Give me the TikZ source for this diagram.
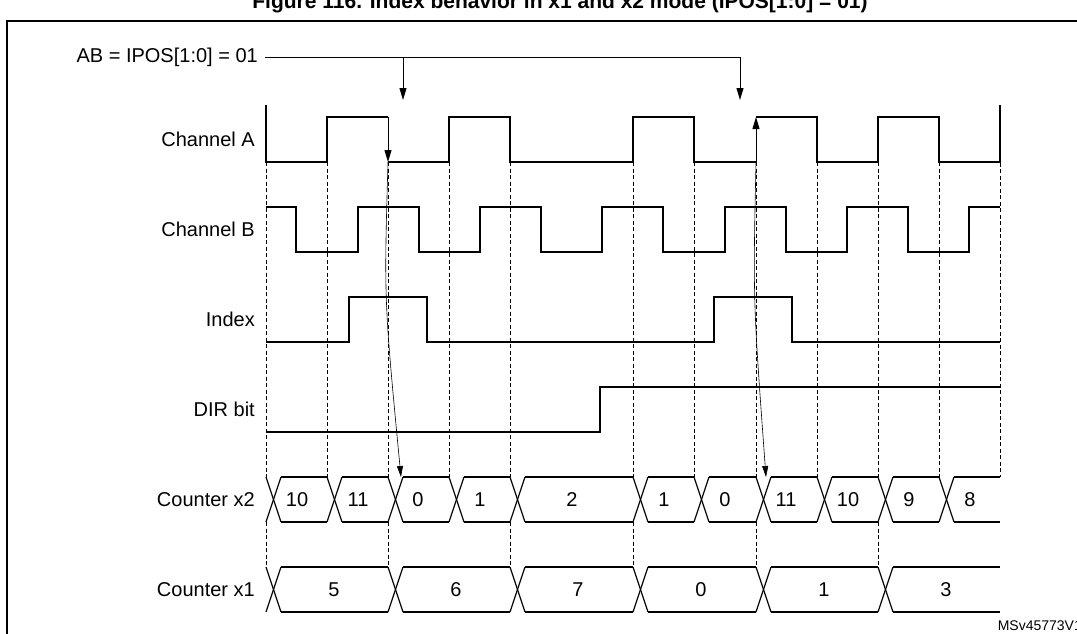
\documentclass[tikz,border=0pt]{standalone}
\usepackage{fontspec}
\setmainfont{Liberation Sans}
\usetikzlibrary{arrows.meta}
\begin{document}
\begin{tikzpicture}[x=1pt,y=-1pt,
  sig/.style={line width=1.5pt},
  grid/.style={dashed,line width=0.5pt,dash pattern=on 4pt off 2.5pt},
  lbl/.style={anchor=east,font=\fontsize{20}{24}\selectfont,inner sep=0pt},
  val/.style={font=\fontsize{20}{24}\selectfont,inner sep=0pt},
  bus/.style={line width=1.2pt},
  big/.style={line width=1pt,-{Triangle[length=12pt,width=7pt]}},
  thin/.style={line width=0.6pt,-{Triangle[length=11pt,width=6pt]}}]
\useasboundingbox (0,0) rectangle (1077,633);
\draw[line width=1.6pt] (7,650) -- (7,21) -- (1090,21);
\node[font=\bfseries\fontsize{21}{24}\selectfont,anchor=base] (title) at (560,8) {Figure 116. Index behavior in x1 and x2 mode (IPOS[1:0] = 01)};
% labels
\node[lbl] (ab) at (258,57) {AB = IPOS[1:0] = 01};
\node[lbl] (la) at (255,139) {Channel A};
\node[lbl] (lb) at (255,229) {Channel B};
\node[lbl] (li) at (255,319) {Index};
\node[lbl] (ld) at (255,409) {DIR bit};
\node[lbl] (l2) at (255,500) {Counter x2};
\node[lbl] (l1) at (255,590) {Counter x1};
\node[anchor=south east,font=\fontsize{14}{16}\selectfont,inner sep=0pt] (ms) at (1082,631) {MSv45773V1};
% top arrow
\coordinate (t1) at (403,100); \coordinate (t2) at (740,100);
\draw[line width=0.8pt] (265,57) -- (740,57);
\draw[big] (403,57) -- (t1);
\draw[big] (740,57) -- (t2);
% dashed grid
\foreach \x in {266,327,388,449,510,633,694,756,817,878,939}
  \draw[grid] (\x,162) -- (\x,477);
\draw[grid] (1000,117) -- (1000,477);
\foreach \x in {266,388,510,633,756,878}
  \draw[grid] (\x,522) -- (\x,567);
% Channel A
\draw[sig] (266,105) -- (266,162) -- (327,162) -- (327,117) -- (388,117);
\draw[sig] (388,162) -- (449,162) -- (449,117) -- (510,117) -- (510,162) -- (633,162) -- (633,117) -- (694,117) -- (694,162) -- (756,162);
\draw[sig] (756,117) -- (817,117) -- (817,162) -- (878,162) -- (878,117) -- (939,117) -- (939,162) -- (1000,162) -- (1000,105);
\draw[big] (388,117) -- (388,162);
\draw[big] (756,162) -- (756,117);
% Channel B
\draw[sig] (266,207) -- (296,207) -- (296,252) -- (358,252) -- (358,207) -- (419,207) -- (419,252) -- (480,252) -- (480,207) -- (541,207) -- (541,252) -- (602,252) -- (602,207) -- (663,207) -- (663,252) -- (725,252) -- (725,207) -- (786,207) -- (786,252) -- (847,252) -- (847,207) -- (908,207) -- (908,252) -- (969,252) -- (969,207) -- (1000,207);
% Index
\draw[sig] (266,342) -- (349,342) -- (349,297) -- (427,297) -- (427,342) -- (714,342) -- (714,297) -- (792,297) -- (792,342) -- (1000,342);
% DIR
\draw[sig] (266,432) -- (600,432) -- (600,387) -- (1000,387);
% Counter x2
\foreach \x in {266,327,388,449,510,633,694,756,817,878,939}{
  \draw[bus] (\x,477) -- (\x+15,522);
  \draw[bus] (\x,522) -- (\x+15,477);}
\foreach \a/\b in {281/327,342/388,403/449,464/510,525/633,648/694,709/756,771/817,832/878,893/939}{
  \draw[bus] (\a,477) -- (\b,477);
  \draw[bus] (\a,522) -- (\b,522);}
\draw[bus] (954,477) -- (1000,477);
\draw[bus] (954,522) -- (1000,522);
\foreach \c/\t in {297/10,358/11,418/0,480/1,572/2,664/1,725/0,786/11,848/10,909/9,970/8}
  \node[val] at (\c,500) {\t};
% Counter x1
\foreach \x in {266,388,510,633,756,878}{
  \draw[bus] (\x,567) -- (\x+15,612);
  \draw[bus] (\x,612) -- (\x+15,567);}
\foreach \a/\b in {281/388,403/510,525/633,648/756,771/878,893/1000}{
  \draw[bus] (\a,567) -- (\b,567);
  \draw[bus] (\a,612) -- (\b,612);}
\foreach \c/\t in {334/5,456/6,578/7,701/0,824/1,946/3}
  \node[val] at (\c,590) {\t};
% curved arrows
\coordinate (c1s) at (388,162); \coordinate (c1e) at (401,477);
\coordinate (c2s) at (756,162); \coordinate (c2e) at (766,477);
\draw[thin] (c1s) .. controls (384,300) .. (c1e);
\draw[thin] (c2s) .. controls (753,300) .. (c2e);
\end{tikzpicture}
\end{document}
